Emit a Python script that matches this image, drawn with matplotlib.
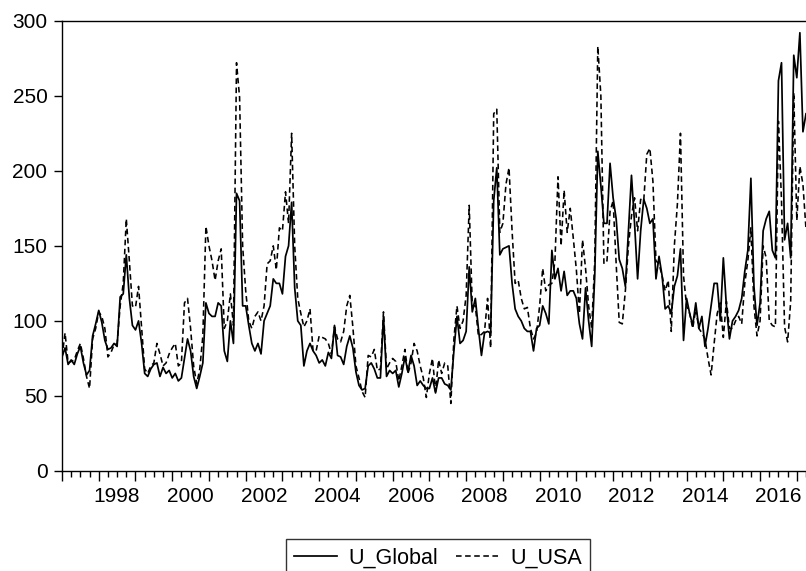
#!/usr/bin/env python3

import numpy as np
import matplotlib
matplotlib.use('Agg')
import matplotlib.pyplot as plt
import matplotlib.ticker as tkr

# monthly observations, starting 1997M1
start_year = 1997

u_global = [
    76, 82, 71, 74, 71, 78, 83, 72, 64, 67, 90, 98,
    107, 99, 87, 81, 82, 85, 83, 116, 118, 144, 115, 97,
    94, 100, 85, 65, 63, 68, 71, 72, 63, 69, 65, 67,
    62, 65, 60, 62, 75, 88, 80, 63, 55, 63, 72, 112,
    105, 103, 103, 112, 110, 80, 73, 100, 85, 185, 180, 110,
    110, 97, 85, 80, 85, 78, 100, 105, 110, 128, 125, 125,
    118, 143, 150, 179, 122, 100, 97, 70, 80, 85, 80, 77,
    72, 74, 70, 79, 75, 97, 77, 76, 71, 83, 90, 82,
    66, 57, 54, 55, 70, 72, 68, 62, 62, 103, 63, 67,
    65, 67, 56, 65, 76, 66, 77, 70, 57, 60, 57, 55,
    55, 62, 52, 62, 62, 58, 57, 54, 80, 103, 85, 87,
    93, 136, 106, 115, 95, 77, 92, 93, 92, 180, 202, 144,
    148, 149, 150, 125, 108, 103, 100, 95, 93, 93, 80, 95,
    97, 110, 105, 98, 147, 128, 135, 120, 133, 117, 120, 120,
    115, 98, 88, 122, 100, 83, 130, 213, 190, 165, 165, 205,
    182, 168, 141, 135, 123, 160, 197, 165, 128, 160, 181, 175,
    165, 168, 128, 143, 130, 108, 110, 105, 123, 130, 148, 87,
    115, 105, 97, 112, 95, 103, 83, 95, 110, 125, 125, 100,
    142, 110, 88, 100, 103, 107, 115, 133, 147, 195, 123, 97,
    112, 160, 168, 173, 147, 142, 260, 272, 154, 165, 142, 277,
    262, 292, 226, 238,
]

u_usa = [
    76, 92, 72, 73, 74, 80, 85, 75, 63, 55, 88, 95,
    106, 103, 95, 76, 79, 84, 85, 110, 125, 168, 140, 110,
    109, 123, 95, 68, 65, 70, 72, 85, 78, 70, 72, 78,
    82, 85, 70, 72, 112, 115, 95, 70, 58, 68, 90, 163,
    150, 140, 127, 140, 148, 95, 100, 118, 97, 272, 249, 150,
    120, 100, 95, 103, 106, 100, 110, 138, 140, 150, 134, 162,
    160, 186, 165, 225, 150, 115, 105, 96, 100, 108, 80, 80,
    90, 89, 88, 85, 78, 96, 88, 86, 93, 110, 117, 96,
    70, 62, 53, 49, 77, 76, 81, 67, 68, 106, 68, 72,
    75, 73, 60, 70, 81, 65, 72, 85, 80, 70, 62, 49,
    65, 75, 53, 74, 65, 72, 70, 45, 88, 110, 95, 100,
    117, 177, 110, 110, 90, 91, 93, 115, 82, 238, 241, 159,
    165, 191, 202, 160, 125, 127, 115, 108, 109, 95, 88, 92,
    110, 135, 120, 124, 125, 140, 196, 150, 187, 159, 175, 155,
    134, 105, 154, 135, 110, 95, 140, 283, 250, 138, 140, 173,
    180, 138, 99, 98, 120, 150, 170, 182, 160, 181, 180, 211,
    215, 193, 140, 138, 130, 120, 127, 93, 150, 178, 225, 130,
    110, 105, 95, 108, 95, 92, 88, 75, 64, 85, 105, 112,
    89, 113, 95, 95, 100, 103, 98, 125, 140, 162, 110, 90,
    100, 150, 142, 100, 97, 96, 233, 180, 96, 86, 113, 252,
    167, 203, 191, 161,
]

year_ticks = np.arange(1998, 2017, 2)


def quarter_label(x, pos):
    # label even years at the middle of the year span
    yr = int(np.floor(x + 1e-6))
    if abs(x - yr - 0.5) < 1e-6 and yr in year_ticks:
        return '%d' % yr
    return ''


plt.rcParams['font.family'] = ['Liberation Sans', 'DejaVu Sans']

fig = plt.figure(figsize=(8.06, 5.71), dpi=100)
ax = fig.add_axes([62 / 806, 1 - 471 / 571, 1 - 62 / 806, (471 - 20.7) / 571])

t = start_year + np.arange(len(u_global)) / 12.0
ax.plot(t, u_global, color='black', lw=1.25, ls='-', label='U_Global')
ax.plot(t, u_usa, color='black', lw=1.15, ls=(0, (3.5, 2.2)), label='U_USA')

ax.set_xlim(start_year, start_year + 243 / 12.0)
ax.set_ylim(0, 300)
ax.set_yticks([0, 50, 100, 150, 200, 250, 300])

ax.xaxis.set_major_locator(tkr.MultipleLocator(1.0))
ax.xaxis.set_minor_locator(tkr.MultipleLocator(0.25))
ax.xaxis.set_major_formatter(tkr.NullFormatter())
ax.xaxis.set_minor_formatter(tkr.FuncFormatter(quarter_label))

ax.tick_params(axis='x', which='major', direction='out', length=7, width=1)
ax.tick_params(axis='x', which='minor', direction='out', length=4, width=1,
               pad=7.5, labelsize=15)
ax.tick_params(axis='y', direction='out', length=5.5, width=1, pad=5,
               labelsize=15)

ax.spines['right'].set_visible(False)
for s in ['left', 'top', 'bottom']:
    ax.spines[s].set_linewidth(1.0)

leg = fig.legend(loc='upper center', bbox_to_anchor=(438 / 806, 1 - 539 / 571),
                 ncol=2, fontsize=15.5, frameon=True, fancybox=False,
                 edgecolor='black', handlelength=2.0, handletextpad=0.5,
                 columnspacing=0.85, borderpad=0.4, borderaxespad=0)
leg.get_frame().set_linewidth(1.0)

fig.savefig('out.png', dpi=100)
plt.close()
